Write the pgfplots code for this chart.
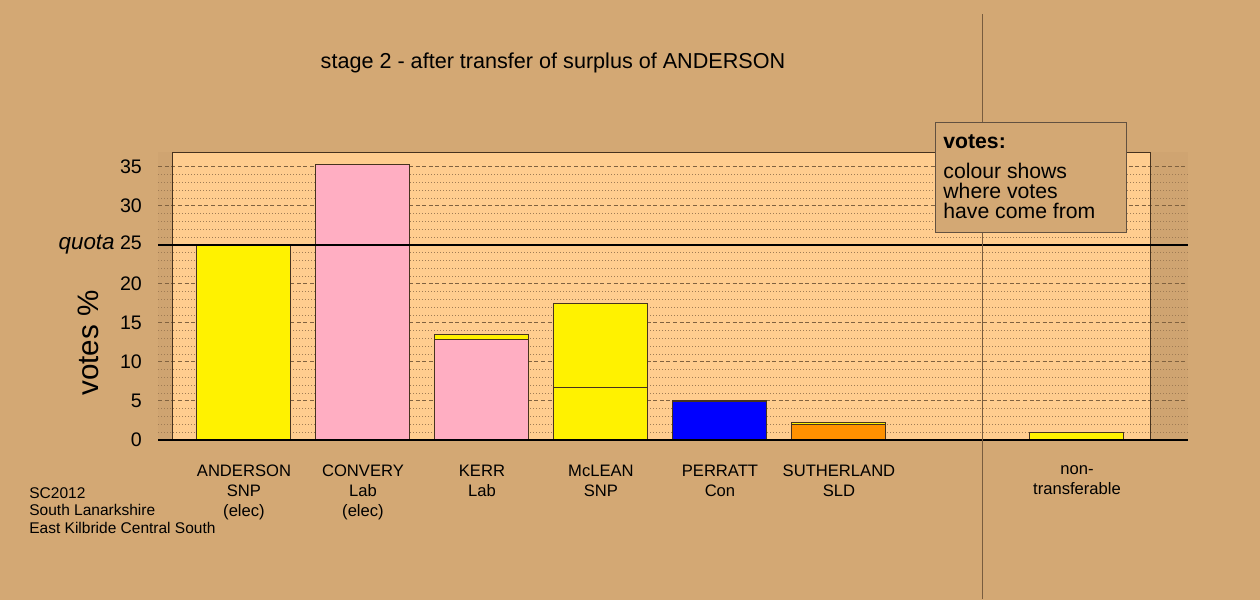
\documentclass[border=0pt]{standalone}
\usepackage{pgfplots}
\pgfplotsset{compat=1.18}
\usepackage{fontspec}
\setmainfont{Liberation Sans}
\definecolor{bg}{RGB}{211,168,116}
\definecolor{stripe}{RGB}{207,164,113}
\definecolor{panel}{RGB}{255,205,143}
\definecolor{rpink}{RGB}{255,174,194}
\definecolor{rorange}{RGB}{255,145,0}
\definecolor{gmaj}{RGB}{128,98,64}
\definecolor{gmin}{RGB}{160,124,84}
\definecolor{edge}{RGB}{70,50,30}
\definecolor{vline}{RGB}{120,92,62}
\begin{document}
\begin{tikzpicture}[x=0.5pt,y=0.5pt]
\fill[bg] (0,0) rectangle (1260,600);
% side stripes and plotting panel (pixel 173..1150.7 x 152.2..440)
\fill[stripe] (158.3,160) rectangle (1187.7,447.8);
\fill[panel] (173,160) rectangle (1150.7,447.8);
\begin{axis}[
  at={(79.15pt,80pt)}, anchor=south west,
  x=59.5pt, y=3.9pt,
  xmin=-0.72, xmax=7.93, ymin=0, ymax=36.9,
  enlargelimits=false, clip=false,
  axis line style={draw=none},
  major tick length=0pt, minor tick length=0pt,
  ytick={0,5,...,35},
  yticklabels={0,5,10,15,20,{{\fontsize{11.2}{12}\selectfont\itshape quota} 25},30,35},
  minor y tick num=4,
  ymajorgrids, yminorgrids,
  major grid style={gmaj, dash pattern=on 2pt off 1.3pt, line width=0.5pt},
  minor grid style={gmin, dash pattern=on 0.5pt off 1pt, line width=0.5pt},
  xtick={0,1,2,3,4,5,7},
  xticklabels={{ANDERSON\\SNP\\(elec)},{CONVERY\\Lab\\(elec)},{KERR\\Lab},{McLEAN\\SNP},{PERRATT\\Con},{SUTHERLAND\\SLD},{non-\\transferable}},
  xticklabel style={align=center, font=\fontsize{8.3}{10}\selectfont, anchor=north, inner sep=0pt, yshift=-12.5pt},
  yticklabel style={font=\fontsize{9.8}{11}\selectfont, anchor=east, inner sep=0pt, xshift=-8pt},
  /pgf/number format/assume math mode=true,
]
\draw[edge, line width=0.5pt] (axis cs:-0.597,0) rectangle (axis cs:7.619,36.9);
% totals (top segment colour)
\addplot[ybar, bar width=47pt, bar shift=0pt, fill=yellow, draw=edge, line width=0.5pt]
  coordinates {(0,25) (2,13.5) (3,17.5) (4,5.05) (5,2.2) (7,1.0)};
% bottom segments
\addplot[ybar, bar width=47pt, bar shift=0pt, fill=rpink, draw=edge, line width=0.5pt]
  coordinates {(1,35.3) (2,12.85)};
\addplot[ybar, bar width=47pt, bar shift=0pt, fill=yellow, draw=edge, line width=0.5pt]
  coordinates {(3,6.75)};
\addplot[ybar, bar width=47pt, bar shift=0pt, fill=blue, draw=edge, line width=0.5pt]
  coordinates {(4,4.95)};
\addplot[ybar, bar width=47pt, bar shift=0pt, fill=rorange, draw=edge, line width=0.5pt]
  coordinates {(5,2.05)};
\draw[black, line width=0.6pt] (axis cs:-0.72,25) -- (axis cs:7.93,25);
\draw[black, line width=0.6pt] (axis cs:-0.72,0) -- (axis cs:7.93,0);
\draw[vline, line width=0.7pt] (axis cs:6.208,-20.4) -- (axis cs:6.208,54.6);
\end{axis}
% legend box
\draw[fill=bg, draw=edge!85, line width=0.5pt] (935,477) rectangle (1126,367);
\node[anchor=base west, inner sep=0pt, font=\fontsize{10.6}{12}\selectfont\bfseries] at (943,451) {votes:};
\node[anchor=base west, inner sep=0pt, font=\fontsize{10.6}{12}\selectfont] at (943,421) {colour shows};
\node[anchor=base west, inner sep=0pt, font=\fontsize{10.6}{12}\selectfont] at (943,401) {where votes};
\node[anchor=base west, inner sep=0pt, font=\fontsize{10.6}{12}\selectfont] at (943,381) {have come from};
% title
\node[font=\fontsize{10.8}{13}\selectfont] at (553,537) {stage 2 - after transfer of surplus of ANDERSON};
% y label
\node[rotate=90, font=\fontsize{14.8}{17}\selectfont] at (88,257) {votes \%};
% bottom-left note
\node[anchor=north west, inner sep=0pt, align=left, font=\fontsize{7.75}{8.75}\selectfont] at (29,113) {SC2012\\South Lanarkshire\\East Kilbride Central South};
\end{tikzpicture}
\end{document}
